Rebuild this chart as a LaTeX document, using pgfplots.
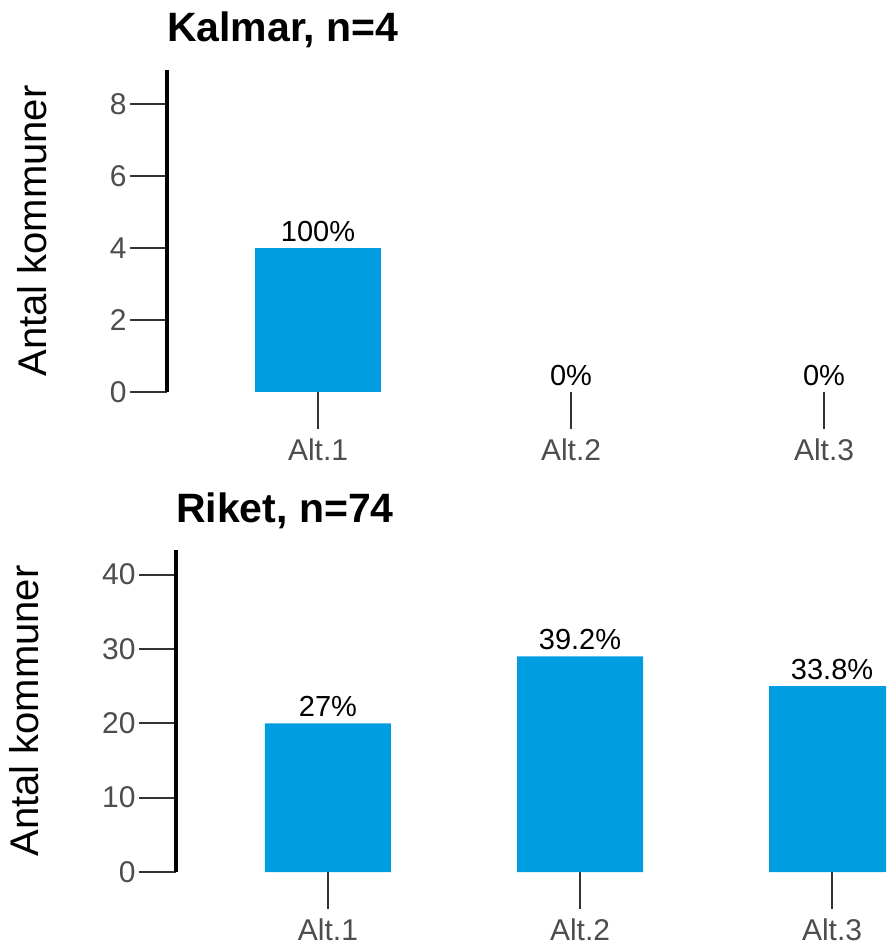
\documentclass[border=0pt]{standalone}
\usepackage{fontspec}
\setmainfont{Liberation Sans}
\usepackage{pgfplots}
\pgfplotsset{compat=1.18}
\definecolor{barblue}{HTML}{009EE0}
\definecolor{ticklab}{HTML}{4D4D4D}
\definecolor{tickcol}{HTML}{333333}
\pgfplotsset{
  panel/.style={
    scale only axis,
    height=322pt,
    axis lines=left,
    axis line style={-},
    x axis line style={draw=none},
    y axis line style={line width=4pt, black},
    enlargelimits=false,
    ymin=0,
    xtick={1,2,3},
    xticklabels={Alt.1,Alt.2,Alt.3},
    tick align=outside,
    major tick length=37pt,
    tick style={tickcol, line width=2pt},
    ticklabel style={ticklab, font=\fontsize{30}{36}\selectfont},
    xticklabel style={yshift=-6pt},
    /pgf/number format/assume math mode=true,
    ylabel={Antal kommuner},
    ylabel style={font=\fontsize{40}{47}\selectfont, anchor=base},
    title style={font=\bfseries\fontsize{41}{48}\selectfont, at={(axis description cs:0,1)}, anchor=base west, inner sep=0pt, yshift=22pt},
    ybar, bar width=0.5,
    nodes near coords,
    point meta=explicit symbolic,
    every node near coord/.append style={font=\fontsize{29}{34}\selectfont, black, inner sep=0pt, yshift=6pt},
    clip=true,
  }
}
\begin{document}
\begin{tikzpicture}
\begin{axis}[panel,
  at={(167pt,-392pt)}, anchor=south west,
  width=719pt,
  xmin=0.403, xmax=3.245,
  ymax=8.94,
  ytick={0,2,4,6,8},
  ylabel style={at={(axis description cs:-0.168,0.5)}},
  title={Kalmar, n=4},
]
\addplot[fill=barblue, draw=none, bar shift=0pt] coordinates {(1,4) [100\%]};
\addplot[fill=none, draw=none, bar shift=0pt] coordinates {(2,0) [0\%] (3,0) [0\%]};
\end{axis}
\begin{axis}[panel,
  at={(176pt,-872pt)}, anchor=south west,
  width=710pt,
  xmin=0.397, xmax=3.214,
  ymax=43.3,
  ytick={0,10,20,30,40},
  ylabel style={at={(axis description cs:-0.194,0.5)}},
  title={Riket, n=74},
]
\addplot[fill=barblue, draw=none, bar shift=0pt] coordinates {(1,20) [27\%] (2,29) [39.2\%] (3,25) [33.8\%]};
\end{axis}
\pgfresetboundingbox
\useasboundingbox (0,0) rectangle (886pt,-947pt);
\end{tikzpicture}
\end{document}
